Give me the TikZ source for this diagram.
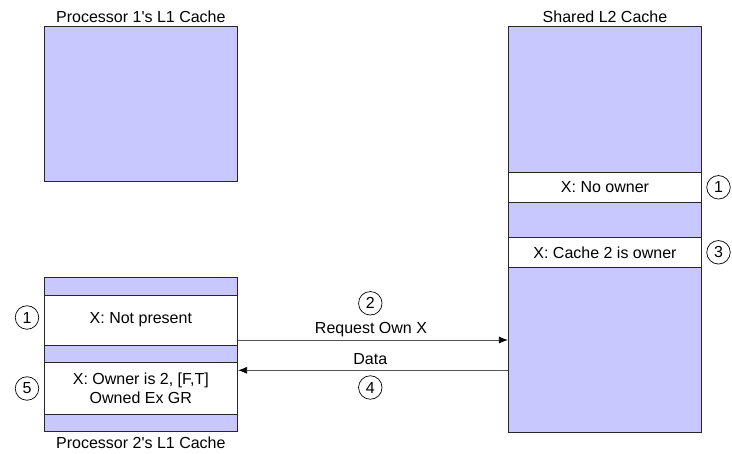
\documentclass[tikz,border=0pt]{standalone}
\usepackage{fontspec}
\setmainfont{Liberation Sans}[Ligatures=TeXOff]
\usetikzlibrary{arrows.meta}
\definecolor{cachefill}{RGB}{200,200,255}
\definecolor{wiregray}{RGB}{85,85,85}
\begin{document}
\begin{tikzpicture}[x=1pt,y=-1pt,
  font=\fontsize{16}{19}\selectfont,
  cachebox/.style={draw=black!85,line width=0.8pt,fill=cachefill,rectangle,inner sep=0pt},
  cacherow/.style={draw=black!85,line width=0.8pt,fill=white,rectangle,inner sep=0pt,
    minimum width=193.7pt,align=center},
  stepnum/.style={draw=black,line width=0.7pt,circle,minimum size=23.5pt,inner sep=0pt},
  msg/.style={draw=wiregray,line width=0.8pt,-{Latex[length=9pt,width=7pt,black]}},
  title/.style={inner sep=0pt}]
\useasboundingbox (0,0) rectangle (732,454);

% Processor 1's L1 cache
\node[cachebox,minimum width=193.7pt,minimum height=154.6pt] (l1a) at (140.85,104) {};
\node[title] (t1) at (140.85,16.5) {Processor 1's L1 Cache};

% Shared L2 cache with its two entries for X
\node[cachebox,minimum width=193.4pt,minimum height=406pt] (l2) at (605,229.7) {};
\node[title] (t2) at (605,17) {Shared L2 Cache};
\node[cacherow,minimum width=193.4pt,minimum height=30pt] (l2x1) at (605,187.3) {X: No owner};
\node[cacherow,minimum width=193.4pt,minimum height=30pt] (l2x3) at (605,252.3) {X: Cache 2 is owner};
\node[stepnum] (c1r) at (718.5,187.3) {1};
\node[stepnum] (c3r) at (718.5,252.3) {3};

% Processor 2's L1 cache with its two entries for X
\node[cachebox,minimum width=193.7pt,minimum height=154.4pt] (l1b) at (140.85,354.5) {};
\node[cacherow,minimum height=50pt] (l1bx1) at (140.85,320) {X: Not present};
\node[cacherow,minimum height=51.3pt] (l1bx5) at (140.85,388.35) {X: Owner is 2, [F,T]\\Owned Ex GR};
\node[title] (t3) at (140.85,442.7) {Processor 2's L1 Cache};
\node[stepnum] (c1l) at (27,317.5) {1};
\node[stepnum] (c5l) at (27,388.5) {5};

% Messages between the caches
\coordinate (reqy) at (0,340);
\coordinate (daty) at (0,370.3);
\draw[msg] (l1bx1.east |- reqy) -- (l2.west |- reqy);
\draw[msg] (l2.west |- daty) -- (l1bx5.east |- daty);
\node[title] (req) at (371,330) {Request Own X};
\node[stepnum] (c2) at (370.3,303.3) {2};
\node[title] (dat) at (370.3,359.5) {Data};
\node[stepnum] (c4) at (370.3,387.5) {4};
\end{tikzpicture}
\end{document}
